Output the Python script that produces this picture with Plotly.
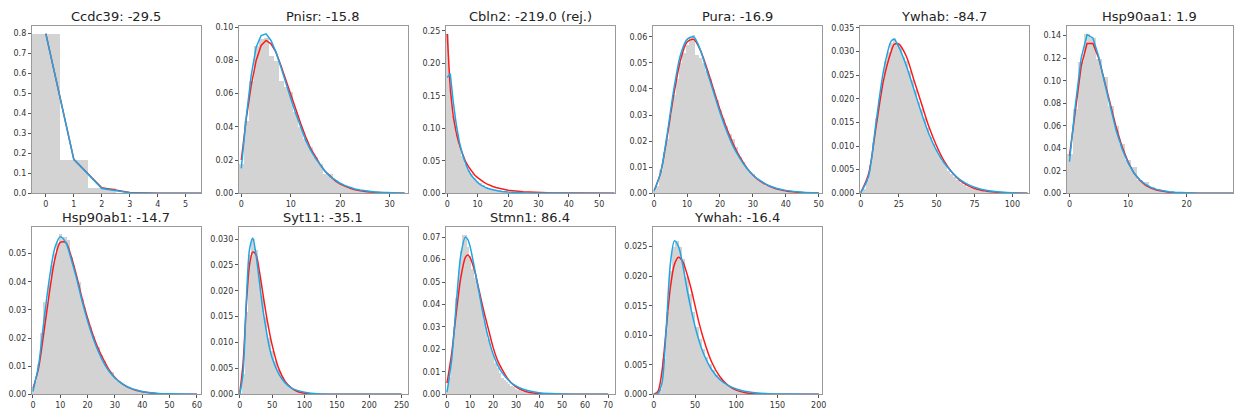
import plotly.graph_objects as go

W, H = 1238, 413

titles = ["Ccdc39: -29.5", "Pnisr: -15.8", "Cbln2: -219.0 (rej.)", "Pura: -16.9", "Ywhab: -84.7",
          "Hsp90aa1: 1.9", "Hsp90ab1: -14.7", "Syt11: -35.1", "Stmn1: 86.4", "Ywhah: -16.4"]

# ---------------- histogram data (bin centers start at 0, fixed bin width) ----------------
hist_width = [1, 1, 1, 1, 2, 1, 1, 5, 1, 4]

hist1 = [0.80, 0.17, 0.027, 0.003, 0.0003, 0.0]
hist2 = [0.018, 0.044, 0.068, 0.089, 0.093, 0.094, 0.083, 0.080, 0.068, 0.064, 0.061, 0.049, 0.040,
         0.033, 0.028, 0.022, 0.018, 0.012, 0.012, 0.008, 0.006, 0.0045, 0.003, 0.0022, 0.0016, 0.0011,
         0.0008, 0.0005, 0.0004, 0.0003, 0.0002, 0.0001, 0.0001, 0.0]
hist3 = [0.245, 0.16, 0.12, 0.092, 0.073, 0.058, 0.046, 0.037, 0.030, 0.024, 0.020, 0.016, 0.013, 0.011,
         0.009, 0.0075, 0.006, 0.005, 0.004, 0.0034, 0.0028, 0.0023, 0.0019, 0.0016, 0.0013, 0.0011,
         0.0009, 0.0008, 0.0007, 0.0006, 0.0005, 0.0004, 0.0004, 0.0003, 0.0003, 0.0002, 0.0002, 0.0002,
         0.00015, 0.00012, 0.0001, 0.0001, 0.00008, 0.00006, 0.00005, 0.00004, 0.00003, 0.00002, 0.00002,
         0.00001, 0.00001, 0.0, 0.0, 0.0, 0.0, 0.0]
hist4 = [0.001, 0.003, 0.009, 0.016, 0.021, 0.030, 0.038, 0.044, 0.050, 0.054, 0.057, 0.060, 0.061,
         0.053, 0.052, 0.050, 0.047, 0.044, 0.040, 0.036, 0.032, 0.029, 0.026, 0.023, 0.021, 0.018,
         0.014, 0.012, 0.010, 0.0085, 0.0075, 0.006, 0.005, 0.0042, 0.003, 0.0025, 0.002, 0.0017,
         0.0013, 0.001, 0.0008, 0.0006, 0.0005, 0.0004, 0.0003, 0.00025, 0.0002, 0.00015, 0.0001,
         0.0001, 0.0]
hist5 = [0.0002, 0.001, 0.003, 0.006, 0.011, 0.016, 0.020, 0.024, 0.028, 0.030, 0.032, 0.033, 0.032,
         0.031, 0.029, 0.028, 0.026, 0.024, 0.022, 0.0195, 0.018, 0.016, 0.014, 0.012, 0.0105, 0.0095,
         0.0082, 0.007, 0.006, 0.0048, 0.0042, 0.0035, 0.003, 0.0022, 0.0018, 0.0015, 0.0012, 0.001,
         0.0008, 0.0006, 0.0005, 0.0004, 0.0003, 0.00025, 0.0002, 0.00015, 0.0001, 0.0001, 0.0001,
         0.00005, 0.00005, 0.0, 0.0, 0.0, 0.0, 0.0]
hist6 = [0.035, 0.075, 0.117, 0.142, 0.138, 0.120, 0.104, 0.078, 0.060, 0.044, 0.030, 0.024, 0.012,
         0.010, 0.006, 0.004, 0.002, 0.0015, 0.001, 0.0005, 0.0003, 0.0002, 0.0001, 0.0, 0.0, 0.0, 0.0,
         0.0]
hist7 = [0.002, 0.005, 0.011, 0.022, 0.033, 0.032, 0.040, 0.046, 0.050, 0.054, 0.057, 0.056, 0.056,
         0.055, 0.049, 0.046, 0.042, 0.040, 0.034, 0.031, 0.027, 0.024, 0.021, 0.018, 0.017, 0.014,
         0.012, 0.010, 0.0085, 0.008, 0.0058, 0.005, 0.0042, 0.0036, 0.003, 0.0025, 0.0021, 0.0018,
         0.0015, 0.0012, 0.001, 0.0008, 0.0007, 0.0006, 0.0005, 0.0004, 0.0003, 0.0003, 0.0002, 0.0002,
         0.0003, 0.0001, 0.0001, 0.0001, 0.0001, 0.0001, 0.0, 0.0, 0.0, 0.0, 0.0, 0.0]
hist8 = [0.0002, 0.004, 0.016, 0.027, 0.030, 0.028, 0.023, 0.019, 0.015, 0.011, 0.0085, 0.0065, 0.0048,
         0.0035, 0.0025, 0.0018, 0.0012, 0.0009, 0.0006, 0.0004, 0.0003, 0.0002, 0.00015, 0.0001, 0.0001,
         0.0, 0.0, 0.0, 0.0, 0.0, 0.0, 0.0, 0.0, 0.0, 0.0, 0.0, 0.0, 0.0, 0.0, 0.0, 0.0, 0.0, 0.0, 0.0,
         0.0, 0.0, 0.0, 0.0, 0.0, 0.0, 0.0, 0.0]
hist9 = [0.001, 0.008, 0.018, 0.030, 0.043, 0.055, 0.064, 0.071, 0.071, 0.066, 0.062, 0.056, 0.052,
         0.050, 0.045, 0.040, 0.033, 0.030, 0.025, 0.021, 0.018, 0.014, 0.012, 0.0095, 0.0075, 0.0065,
         0.0055, 0.0048, 0.004, 0.0033, 0.0026, 0.0022, 0.0018, 0.0014, 0.0011, 0.0009, 0.0007, 0.0006,
         0.0005, 0.0004, 0.0003, 0.0003, 0.0002, 0.0002, 0.0002, 0.0001, 0.0001, 0.0001, 0.0001, 0.0001,
         0.0001, 0.0001, 0.0001, 0.0003, 0.0, 0.0, 0.0, 0.0, 0.0, 0.0, 0.0, 0.0, 0.0, 0.0, 0.0, 0.0,
         0.0, 0.0, 0.0, 0.0, 0.0, 0.0, 0.0]
hist10 = [0.0, 0.0002, 0.001, 0.006, 0.014, 0.021, 0.025, 0.026, 0.025, 0.023, 0.020, 0.017, 0.014,
          0.0115, 0.0095, 0.0078, 0.0064, 0.0052, 0.0042, 0.0034, 0.0028, 0.0022, 0.0017, 0.0013, 0.001,
          0.0008, 0.0006, 0.0005, 0.0004, 0.0003, 0.0002, 0.0002, 0.00015, 0.0001, 0.0, 0.0, 0.0, 0.0,
          0.0, 0.0, 0.0, 0.0, 0.0, 0.0, 0.0, 0.0, 0.0, 0.0, 0.0, 0.0, 0.0, 0.0]

# ---------------- fitted curves (red and blue) ----------------
cx1 = [0, 1, 2, 3, 4, 5, 6]
red1 = [0.80, 0.17, 0.028, 0.004, 0.0005, 0.0001, 0.0]
blue1 = [0.80, 0.17, 0.024, 0.003, 0.0004, 0.0001, 0.0]

cx2 = list(range(0, 34))
red2 = [0.020, 0.045, 0.065, 0.080, 0.089, 0.092, 0.090, 0.085, 0.077, 0.068, 0.059, 0.050, 0.042,
        0.034, 0.027, 0.022, 0.017, 0.013, 0.010, 0.0075, 0.0055, 0.004, 0.003, 0.0021, 0.0015, 0.0011,
        0.0008, 0.0005, 0.0004, 0.0003, 0.0002, 0.00013, 0.0001, 0.00006]
blue2 = [0.015, 0.046, 0.071, 0.088, 0.095, 0.096, 0.092, 0.085, 0.076, 0.066, 0.057, 0.048, 0.040,
         0.032, 0.026, 0.021, 0.017, 0.013, 0.010, 0.008, 0.006, 0.0046, 0.0035, 0.0026, 0.002, 0.0015,
         0.0011, 0.0008, 0.0006, 0.0004, 0.0003, 0.0002, 0.00015, 0.0001]

cx3 = list(range(0, 21)) + [25, 30, 35, 40, 45, 50, 55]
red3 = [0.245, 0.160, 0.118, 0.092, 0.074, 0.060, 0.049, 0.041, 0.034, 0.028, 0.024, 0.020, 0.017,
        0.0145, 0.012, 0.0103, 0.0088, 0.0075, 0.0064, 0.0055, 0.0047, 0.0022, 0.0011, 0.0005, 0.00025,
        0.00012, 0.00006, 0.00003]
blue3 = [0.178, 0.184, 0.140, 0.105, 0.079, 0.060, 0.046, 0.035, 0.027, 0.021, 0.0165, 0.013, 0.010,
         0.008, 0.0064, 0.0051, 0.0041, 0.0033, 0.0027, 0.0022, 0.0018, 0.0008, 0.0004, 0.0002, 0.0001,
         0.00005, 0.00002, 0.00001]

cx4 = [0, 2, 4, 6, 8, 10, 12, 14, 16, 18, 20, 22, 24, 26, 28, 30, 32, 34, 36, 38, 40, 45, 50]
red4 = [0.001, 0.008, 0.022, 0.038, 0.051, 0.058, 0.059, 0.055, 0.048, 0.040, 0.032, 0.025, 0.019,
        0.014, 0.010, 0.007, 0.0048, 0.0033, 0.0022, 0.0014, 0.0009, 0.0003, 0.0001]
blue4 = [0.0008, 0.008, 0.023, 0.040, 0.053, 0.059, 0.060, 0.055, 0.047, 0.039, 0.031, 0.024, 0.018,
         0.0135, 0.0098, 0.007, 0.005, 0.0035, 0.0024, 0.0016, 0.0011, 0.0004, 0.00015]

cx5 = [0, 5, 10, 15, 20, 22, 25, 30, 35, 40, 45, 50, 55, 60, 65, 70, 75, 80, 90, 100, 110]
red5 = [0.0002, 0.004, 0.014, 0.024, 0.030, 0.0315, 0.0316, 0.029, 0.024, 0.019, 0.014, 0.010, 0.0068,
        0.0045, 0.0028, 0.0017, 0.001, 0.0006, 0.0002, 0.00005, 0.0]
blue5 = [0.0001, 0.0035, 0.015, 0.026, 0.0322, 0.0326, 0.031, 0.027, 0.022, 0.017, 0.0125, 0.009,
         0.0064, 0.0045, 0.003, 0.002, 0.0013, 0.0008, 0.0003, 0.0001, 0.0]

cx6 = list(range(0, 19)) + [20, 22, 28]
red6 = [0.033, 0.075, 0.113, 0.133, 0.133, 0.120, 0.100, 0.078, 0.058, 0.041, 0.028, 0.018, 0.0115,
        0.007, 0.0043, 0.0026, 0.0015, 0.0009, 0.0005, 0.0002, 0.0001, 0.0]
blue6 = [0.028, 0.078, 0.120, 0.141, 0.138, 0.121, 0.098, 0.075, 0.055, 0.039, 0.027, 0.018, 0.012,
         0.0078, 0.005, 0.0032, 0.002, 0.0013, 0.0008, 0.0003, 0.0001, 0.0]

cx7 = [0, 2, 4, 6, 8, 10, 12, 14, 16, 18, 20, 22, 24, 26, 28, 30, 32, 34, 36, 38, 40, 45, 50, 60]
red7 = [0.002, 0.009, 0.022, 0.036, 0.048, 0.054, 0.054, 0.049, 0.042, 0.034, 0.027, 0.021, 0.016,
        0.012, 0.0085, 0.006, 0.0042, 0.0029, 0.002, 0.0013, 0.0009, 0.0003, 0.0001, 0.0]
blue7 = [0.001, 0.010, 0.026, 0.041, 0.052, 0.056, 0.054, 0.048, 0.041, 0.033, 0.026, 0.020, 0.015,
         0.011, 0.008, 0.0058, 0.0042, 0.003, 0.0021, 0.0015, 0.001, 0.0004, 0.00015, 0.0]

cx8 = [0, 5, 10, 15, 20, 25, 30, 35, 40, 45, 50, 60, 70, 80, 90, 100, 120, 150, 200, 250]
red8 = [0.0003, 0.006, 0.017, 0.025, 0.0275, 0.027, 0.024, 0.020, 0.016, 0.0125, 0.0095, 0.005, 0.0025,
        0.0012, 0.0005, 0.0002, 0.0, 0.0, 0.0, 0.0]
blue8 = [0.0, 0.004, 0.018, 0.028, 0.0302, 0.027, 0.022, 0.017, 0.013, 0.0095, 0.007, 0.004, 0.0022,
         0.0012, 0.0007, 0.0004, 0.0001, 0.0, 0.0, 0.0]

cx9 = [0, 2, 4, 6, 8, 9, 10, 12, 14, 16, 18, 20, 22, 24, 26, 28, 30, 32, 35, 40, 45, 50, 60, 70]
red9 = [0.005, 0.018, 0.036, 0.052, 0.061, 0.062, 0.061, 0.055, 0.046, 0.037, 0.029, 0.021, 0.015,
        0.011, 0.0075, 0.005, 0.0033, 0.0021, 0.001, 0.0003, 0.0001, 0.0, 0.0, 0.0]
blue9 = [0.001, 0.015, 0.040, 0.062, 0.070, 0.069, 0.066, 0.056, 0.045, 0.034, 0.025, 0.018, 0.013,
         0.0095, 0.007, 0.005, 0.0037, 0.0027, 0.0017, 0.0007, 0.0003, 0.0001, 0.0, 0.0]

cx10 = [0, 5, 10, 15, 20, 25, 30, 35, 40, 45, 50, 55, 60, 70, 80, 90, 100, 110, 120, 140, 150, 200]
red10 = [0.0, 0.0005, 0.004, 0.011, 0.018, 0.022, 0.0232, 0.0225, 0.0205, 0.018, 0.015, 0.012, 0.0095,
         0.0055, 0.003, 0.0015, 0.0007, 0.0003, 0.0001, 0.0, 0.0, 0.0]
blue10 = [0.0, 0.0001, 0.002, 0.011, 0.022, 0.026, 0.025, 0.022, 0.018, 0.0145, 0.0115, 0.009, 0.007,
          0.0042, 0.0025, 0.0015, 0.0009, 0.0005, 0.0003, 0.0001, 0.00005, 0.0]

hists = [hist1, hist2, hist3, hist4, hist5, hist6, hist7, hist8, hist9, hist10]
curve_x = [cx1, cx2, cx3, cx4, cx5, cx6, cx7, cx8, cx9, cx10]
reds = [red1, red2, red3, red4, red5, red6, red7, red8, red9, red10]
blues = [blue1, blue2, blue3, blue4, blue5, blue6, blue7, blue8, blue9, blue10]
line_shapes = ["linear", "linear", "linear", "spline", "spline", "linear", "spline", "spline", "spline", "spline"]

# axis settings
x_ranges = [[-0.5, 5.55], [-0.5, 33.7], [-0.45, 55.2], [-0.4, 51], [-0.7, 111], [-0.45, 27.9],
            [-0.4, 61.5], [-1.5, 260], [-0.5, 73], [-1.2, 204]]
y_ranges = [0.84, 0.101, 0.258, 0.0643, 0.0355, 0.149, 0.0596, 0.0324, 0.0747, 0.0284]
x_ticks = [list(range(0, 6)), [0, 10, 20, 30], [0, 10, 20, 30, 40, 50], [0, 10, 20, 30, 40, 50],
           [0, 25, 50, 75, 100], [0, 10, 20], [0, 10, 20, 30, 40, 50, 60], [0, 50, 100, 150, 200, 250],
           [0, 10, 20, 30, 40, 50, 60, 70], [0, 50, 100, 150, 200]]
y_dtick = [0.1, 0.02, 0.05, 0.01, 0.005, 0.02, 0.01, 0.005, 0.01, 0.005]
y_fmt = [".1f", ".2f", ".2f", ".2f", ".3f", ".2f", ".2f", ".3f", ".2f", ".3f"]

# layout geometry (pixels)
lefts = [30, 238, 446, 654, 862, 1070]
pw = 170
rows_px = [(23, 194), (228, 399)]

fig = go.Figure()
layout = dict(width=W, height=H, autosize=False, margin=dict(l=0, r=0, t=0, b=0),
              paper_bgcolor="white", plot_bgcolor="white", showlegend=False, bargap=0,
              font=dict(family="DejaVu Sans", color="#333"), annotations=[])

for i in range(10):
    r, c = divmod(i, 6)
    n = i + 1
    xa, ya = f"x{n}", f"y{n}"
    left = lefts[c]
    right = min(left + pw, 1237)
    top, bot = rows_px[r]
    hw = hist_width[i]
    hx = [k * hw for k in range(len(hists[i]))]
    fig.add_trace(go.Bar(x=hx, y=hists[i], width=hw, marker=dict(color="#d3d3d3", line=dict(width=0)),
                         xaxis=xa, yaxis=ya, hoverinfo="skip"))
    fig.add_trace(go.Scatter(x=curve_x[i], y=reds[i], mode="lines",
                             line=dict(color="#ff1a1a", width=1.5, shape=line_shapes[i], smoothing=0.8),
                             xaxis=xa, yaxis=ya))
    fig.add_trace(go.Scatter(x=curve_x[i], y=blues[i], mode="lines",
                             line=dict(color="#1ca6e6", width=1.5, shape=line_shapes[i], smoothing=0.8),
                             xaxis=xa, yaxis=ya))
    axx = dict(domain=[left / W, right / W], range=x_ranges[i], anchor=ya, tickmode="array",
               tickvals=x_ticks[i], ticks="outside", ticklen=3, tickwidth=1, tickcolor="#555",
               showline=True, linecolor="#999", linewidth=1, mirror=True, showgrid=False, zeroline=False,
               tickfont=dict(size=8, color="#333", family="DejaVu Sans"), fixedrange=True)
    axy = dict(domain=[(H - bot) / H, (H - top) / H], range=[0, y_ranges[i]], anchor=xa,
               dtick=y_dtick[i], tick0=0, tickformat=y_fmt[i], ticks="outside", ticklen=3, tickwidth=1,
               tickcolor="#555", showline=True, linecolor="#999", linewidth=1, mirror=True,
               showgrid=False, zeroline=False,
               tickfont=dict(size=8, color="#333", family="DejaVu Sans"), fixedrange=True)
    layout[f"xaxis{n if n > 1 else ''}"] = axx
    layout[f"yaxis{n if n > 1 else ''}"] = axy
    layout["annotations"].append(dict(text=titles[i], x=(left + right) / 2 / W, y=(H - (top - 9)) / H,
                                      xref="paper", yref="paper", xanchor="center", yanchor="middle",
                                      showarrow=False, font=dict(size=13, color="#222", family="DejaVu Sans")))

fig.update_layout(**layout)
fig.write_html("out.html")
